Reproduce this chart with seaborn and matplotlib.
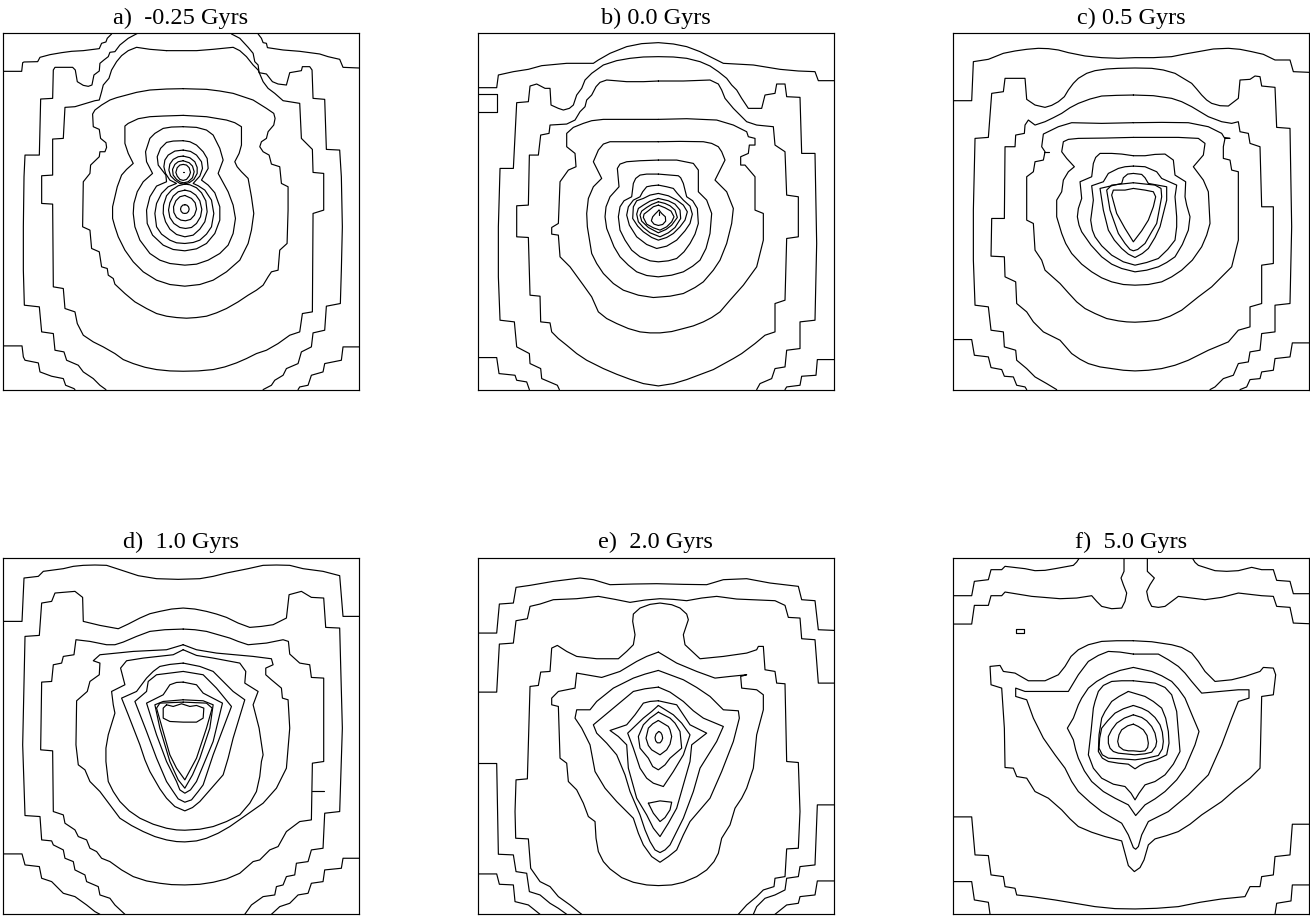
import pandas as pd
import matplotlib
matplotlib.use('Agg')
import matplotlib.pyplot as plt
import seaborn as sns

# contours, in zoomed pixel units of each panel

titles = ['a)  -0.25 Gyrs', 'b) 0.0 Gyrs', 'c) 0.5 Gyrs',
          'd)  1.0 Gyrs', 'e)  2.0 Gyrs', 'f)  5.0 Gyrs']

panel_a = [
    [(8,184),(65,184),(68,158),(72,156),(113,155),(120,142),(150,134),(185,128),(215,124),(250,122),(298,116),(305,100),(318,96),(322,85),(335,72)],
    [(775,72),(785,85),(790,98),(800,100),(803,113),(850,120),(900,124),(960,132),(985,140),(1020,148),(1030,172),(1078,174)],
    [(8,1007),(66,1007),(70,1040),(75,1050),(115,1058),(120,1085),(155,1098),(190,1105),(197,1125),(222,1135),(225,1138)],
    [(1078,1010),(1030,1010),(1025,1050),(975,1060),(970,1085),(935,1095),(925,1125),(900,1130),(895,1138)],
    [(413,70),(385,85),(360,105),(345,125),(330,127),(325,140),(312,150),(300,160),(298,183),(282,195),(276,225),(265,229),(250,226),(232,215),(226,180),(218,172),(165,172),(160,180),(158,265),(122,267),(118,435),(75,435),(72,500),(70,650),(70,780),(73,885),(118,890),(125,965),(160,970),(165,1020),(192,1025),(200,1050),(235,1065),(250,1085),(280,1105),(300,1125),(318,1138)],
    [(695,72),(720,85),(745,112),(760,130),(765,155),(775,165),(778,188),(800,192),(818,215),(835,222),(860,225),(870,188),(905,182),(908,170),(930,170),(937,180),(940,265),(975,268),(980,418),(1020,420),(1025,500),(1028,650),(1025,780),(1022,880),(980,888),(975,960),(940,968),(935,1010),(905,1025),(895,1060),(860,1075),(850,1095),(825,1110),(815,1125),(790,1138)],
    [(500,122),(450,118),(410,112),(385,122),(365,137),(350,155),(335,180),(327,205),(310,225),(305,245),(298,270),(285,272),(225,290),(195,292),(190,385),(158,387),(158,495),(125,497),(125,580),(158,582),(160,830),(190,835),(195,895),(225,905),(232,940),(250,975),(280,995),(310,1010),(345,1030),(370,1048),(400,1060),(435,1071),(470,1078),(510,1082),(550,1083),(595,1082),(640,1078),(675,1070),(710,1058),(740,1045),(770,1030),(800,1020),(835,1000),(870,975),(900,965),(908,910),(938,905),(940,610),(972,600),(972,490),(940,487),(938,418),(905,385),(900,280),(850,272),(825,250),(805,235),(790,215),(775,180),(760,165),(740,140),(720,122),(700,112),(670,115),(640,118),(590,122),(500,122)],
    [(550,236),(500,237),(450,240),(410,247),(380,255),(350,263),(330,270),(305,285),(285,300),(278,312),(280,350),(298,358),(302,385),(318,398),(320,412),(315,425),(300,425),(298,440),(272,465),(270,490),(250,515),(248,650),(270,660),(275,715),(298,725),(305,770),(322,775),(325,795),(340,805),(345,822),(375,850),(405,875),(440,895),(470,910),(500,918),(530,922),(560,924),(590,922),(620,918),(650,908),(680,895),(715,875),(745,855),(770,840),(790,825),(805,800),(815,785),(835,780),(840,720),(862,700),(865,600),(865,530),(845,520),(840,470),(815,462),(808,435),(790,425),(780,410),(785,395),(800,385),(805,365),(822,345),(826,325),(822,310),(800,295),(760,270),(730,260),(700,250),(660,243),(620,238),(550,236)],
    [(550,316),(490,318),(450,320),(415,326),(385,340),(375,348),(375,400),(385,430),(400,460),(380,478),(365,495),(352,530),(338,590),(338,625),(345,650),(355,680),(375,720),(400,755),(430,785),(470,810),(510,823),(555,828),(600,823),(640,810),(680,785),(720,750),(745,700),(755,660),(762,610),(755,560),(745,505),(725,485),(712,470),(705,455),(718,430),(725,405),(725,350),(705,338),(680,330),(620,320),(550,316)],
    [(550,350),(515,351),(490,355),(465,370),(450,385),(437,425),(440,455),(458,490),(430,515),(412,545),(402,580),(400,610),(405,650),(420,690),(450,730),(480,750),(510,760),(555,765),(590,762),(625,750),(660,730),(685,705),(700,670),(707,625),(700,585),(685,545),(655,490),(670,450),(660,415),(640,375),(620,360),(590,352),(550,350)],
    [(550,392),(520,393),(500,397),(482,415),(472,440),(475,465),(498,495),(500,515),(470,528),(450,560),(440,600),(442,640),(458,675),(490,705),(520,718),(555,722),(590,716),(620,700),(645,670),(660,630),(660,590),(645,548),(625,525),(605,510),(625,475),(622,445),(610,425),(590,405),(570,395),(550,392)],
    [(550,420),(525,423),(505,435),(495,450),(492,470),(497,490),(510,510),(530,520),(505,530),(485,550),(470,580),(465,610),(470,650),(485,672),(510,690),(530,698),(555,700),(580,697),(600,690),(620,672),(635,650),(642,610),(635,570),(615,540),(595,527),(580,520),(600,498),(608,475),(605,455),(590,435),(572,424),(550,420)],
    [(550,438),(535,440),(520,448),(510,462),(507,480),(512,497),(525,510),(540,520),(552,522),(568,518),(582,508),(592,490),(592,472),(585,455),(570,443),(550,438)],
    [(550,452),(535,455),(525,463),(518,478),(520,495),(530,508),(542,516),(552,518),(565,515),(578,503),(583,485),(578,468),(568,458),(550,452)],
    [(550,463),(540,465),(532,473),(528,487),(532,498),(540,508),(550,511),(560,508),(568,498),(572,487),(568,473),(560,465),(550,463)],
    [(555,522),(535,527),(515,540),(500,557),(491,585),(490,610),(497,635),(510,657),(530,673),(555,680),(580,675),(600,657),(615,635),(622,605),(618,572),(605,548),(590,533),(570,524),(555,522)],
    [(555,540),(535,545),(520,558),(510,578),(506,600),(510,622),(522,640),(540,652),(557,655),(575,652),(590,640),(602,620),(606,598),(600,572),(588,555),(572,544),(555,540)],
    [(555,556),(540,560),(528,572),(521,590),(522,607),(530,622),(543,630),(557,632),(572,628),(584,615),(590,597),(586,578),(575,565),(555,556)],
    [(555,584),(549,585),(544,590),(542,597),(544,604),(549,609),(555,610),(561,609),(566,604),(568,597),(566,590),(561,585),(555,584)],
    [(549,487),(553,487)],
]

panel_b = [
    [(23,233),(80,233),(85,195),(130,185),(175,178),(215,167),(290,160),(370,160),(385,150),(420,130),(470,110),(515,101),(565,98),(610,102),(650,110),(690,125),(720,140),(760,160),(850,165),(930,178),(985,183),(1035,185),(1045,212),(1092,212)],
    [(23,253),(80,253),(80,305),(23,305)],
    [(23,1042),(80,1042),(87,1090),(135,1095),(140,1110),(170,1115),(178,1138)],
    [(1092,1048),(1042,1048),(1038,1095),(995,1098),(990,1125),(950,1130),(945,1138)],
    [(268,1138),(262,1125),(215,1105),(212,1075),(180,1060),(178,1030),(140,1010),(133,935),(90,930),(85,800),(85,650),(90,475),(130,475),(140,278),(175,275),(180,228),(200,222),(225,235),(240,235),(243,285),(265,295),(280,300),(298,295),(310,285),(320,255),(335,235),(345,210),(365,190),(400,165),(440,152),(480,145),(520,141),(565,140),(610,141),(650,145),(690,155),(720,168),(745,185),(770,205),(785,225),(800,240),(815,265),(835,295),(875,295),(885,255),(915,250),(920,222),(945,222),(950,260),(990,262),(995,430),(1035,430),(1040,700),(1035,930),(990,935),(990,1015),(950,1020),(945,1070),(915,1075),(905,1105),(870,1120),(860,1138)],
    [(565,213),(520,215),(470,215),(435,212),(410,210),(390,217),(378,230),(365,255),(350,270),(345,290),(330,305),(315,330),(290,342),(240,345),(237,370),(212,375),(205,435),(178,435),(175,585),(140,587),(140,680),(175,682),(180,855),(210,858),(212,935),(240,938),(245,965),(265,985),(290,1005),(320,1030),(350,1050),(400,1075),(440,1092),(480,1107),(520,1120),(565,1127),(610,1120),(650,1108),(690,1093),(730,1078),(790,1045),(815,1030),(855,1000),(885,975),(915,965),(915,880),(945,870),(950,685),(985,680),(985,560),(950,555),(945,425),(915,405),(910,350),(860,345),(830,335),(810,315),(790,295),(765,265),(755,240),(745,222),(720,210),(640,213),(565,213)],
    [(565,328),(480,328),(400,328),(365,332),(340,340),(310,352),(290,370),(290,410),(315,430),(318,470),(295,480),(270,515),(265,640),(245,652),(245,672),(265,675),(270,740),(300,770),(340,825),(365,860),(385,905),(410,925),(440,940),(475,955),(510,965),(540,968),(570,968),(605,964),(640,955),(670,947),(700,935),(725,922),(750,905),(780,870),(820,825),(860,770),(880,690),(880,610),(855,600),(855,500),(825,465),(812,465),(812,440),(835,430),(838,405),(855,405),(855,385),(835,380),(830,365),(790,345),(740,330),(650,326),(565,328)],
    [(565,395),(490,395),(420,395),(400,402),(385,420),(370,455),(395,505),(370,530),(355,565),(350,610),(352,650),(365,730),(380,760),(400,790),(430,820),(460,840),(505,855),(550,862),(600,858),(640,850),(675,832),(700,815),(730,780),(750,750),(770,700),(785,640),(790,595),(770,545),(735,510),(765,450),(755,425),(745,410),(725,400),(700,395),(630,394),(565,395)],
    [(565,450),(510,452),(470,455),(450,462),(442,475),(447,530),(420,560),(408,590),(405,620),(410,655),(420,680),(432,710),(450,740),(475,765),(500,785),(530,796),(565,800),(605,795),(640,785),(668,768),(690,750),(708,715),(720,670),(725,610),(710,570),(685,545),(685,480),(670,460),(620,450),(565,450)],
    [(565,492),(530,492),(510,495),(497,505),(490,520),(485,560),(462,572),(450,590),(445,620),(450,660),(465,690),(485,720),(510,740),(540,752),(565,755),(595,752),(620,745),(642,725),(660,700),(675,672),(685,640),(682,595),(668,572),(650,560),(640,520),(632,503),(625,497),(565,492)],
    [(565,525),(545,527),(530,530),(518,545),(510,560),(490,570),(475,590),(470,615),(478,645),(500,680),(530,703),(560,715),(590,708),(620,690),(645,662),(660,640),(667,612),(660,588),(640,570),(622,550),(610,535),(590,530),(565,525)],
    [(565,550),(540,555),(520,565),(500,572),(490,590),(488,625),(503,648),(520,665),(545,682),(565,690),(590,682),(610,670),(630,650),(645,630),(652,605),(640,585),(620,570),(595,557),(565,550)],
    [(565,565),(540,573),(520,585),(505,595),(500,612),(505,635),(520,652),(540,668),(570,680),(595,668),(615,652),(632,625),(630,600),(615,582),(595,572),(565,565)],
    [(565,575),(545,583),(530,592),(515,603),(510,615),(515,633),(535,652),(565,668),(588,658),(605,645),(622,622),(615,600),(600,587),(585,580),(565,575)],
    [(565,585),(550,590),(535,602),(522,612),(520,622),(530,642),(550,653),(570,660),(590,650),(605,635),(612,620),(603,603),(585,593),(565,585)],
    [(567,600),(555,612),(548,620),(544,632),(552,642),(565,646),(578,643),(587,633),(586,620),(575,610),(567,600)],
    [(567,606),(567,616)],
]

panel_c = [
    [(23,272),(80,272),(85,155),(130,148),(175,130),(210,123),(245,118),(280,115),(310,116),(340,120),(370,128),(420,138),(470,143),(520,145),(570,143),(625,143),(680,140),(720,132),(760,125),(805,117),(850,115),(885,118),(920,125),(955,133),(990,150),(1035,150),(1045,185),(1092,187)],
    [(23,988),(80,988),(88,1035),(130,1040),(138,1072),(170,1078),(178,1098),(205,1100),(215,1125),(240,1130),(245,1138)],
    [(1092,998),(1042,998),(1035,1040),(990,1045),(985,1080),(950,1085),(945,1105),(915,1108),(905,1130),(885,1138)],
    [(335,1138),(305,1120),(270,1100),(245,1075),(215,1050),(212,1020),(178,1010),(175,965),(138,960),(130,890),(90,885),(85,750),(85,600),(90,385),(130,382),(140,250),(175,245),(180,205),(240,205),(245,268),(270,285),(300,292),(320,286),(340,275),(358,260),(370,240),(385,220),(400,205),(425,190),(450,182),(485,177),(520,175),(570,174),(620,175),(655,180),(690,190),(715,205),(740,220),(755,237),(770,255),(785,270),(800,280),(825,287),(850,288),(880,265),(885,210),(915,208),(930,198),(945,200),(950,228),(990,232),(995,352),(1035,355),(1040,650),(1035,880),(990,885),(990,965),(950,970),(945,1020),(915,1025),(910,1055),(880,1060),(865,1095),(835,1105),(810,1130),(795,1138)],
    [(565,255),(515,256),(470,258),(435,267),(400,280),(375,293),(350,310),(325,323),(300,335),(270,345),(250,330),(240,345),(238,370),(212,375),(210,410),(180,410),(178,625),(140,625),(138,738),(178,740),(180,800),(212,815),(215,880),(245,905),(265,935),(295,965),(345,990),(380,1030),(405,1047),(430,1060),(465,1070),(500,1075),(535,1080),(570,1082),(610,1080),(650,1075),(690,1065),(730,1050),(760,1035),(790,1020),(850,995),(880,960),(915,950),(915,890),(950,880),(950,765),(985,760),(985,590),(950,590),(945,410),(915,400),(910,370),(885,365),(880,335),(860,340),(830,335),(790,320),(765,305),(740,290),(710,275),(680,265),(625,257),(565,255)],
    [(565,338),(470,340),(380,338),(340,350),(295,372),(290,410),(300,425),(295,450),(270,455),(265,485),(245,500),(245,630),(265,640),(270,720),(290,750),(300,780),(345,820),(370,848),(395,875),(420,895),(450,910),(485,925),(520,932),(545,935),(570,936),(605,934),(640,930),(675,918),(710,900),(735,880),(760,860),(800,830),(830,800),(860,770),(880,690),(880,485),(860,480),(855,450),(835,445),(835,410),(840,385),(855,385),(838,383),(830,370),(790,350),(730,338),(650,337),(565,338)],
    [(297,425),(313,425)],
    [(565,382),(480,384),(400,385),(370,388),(355,395),(350,425),(365,445),(388,470),(370,485),(355,510),(350,545),(335,570),(335,620),(350,670),(362,700),(380,730),(410,762),(440,785),(470,803),(500,815),(535,823),(570,825),(610,823),(650,815),(680,800),(710,780),(742,750),(770,710),(785,675),(795,640),(790,545),(775,510),(745,470),(775,435),(780,400),(760,385),(700,382),(565,382)],
    [(565,437),(530,432),(500,430),(465,430),(452,442),(445,460),(440,500),(405,515),(410,565),(400,595),(397,620),(402,645),(410,665),(438,705),(470,740),(500,762),(530,775),(570,785),(605,780),(640,770),(665,757),(690,740),(712,703),(730,660),(735,620),(725,585),(720,560),(722,515),(690,495),(685,450),(660,432),(630,433),(600,437),(565,437)],
    [(565,468),(540,470),(520,475),(490,490),(475,515),(440,527),(445,570),(437,630),(442,660),(450,680),(470,707),(500,735),(535,755),(570,765),(605,757),(640,745),(668,718),(690,690),(695,650),(695,620),(690,560),(695,525),(650,505),(635,485),(600,470),(565,468)],
    [(565,490),(548,492),(535,503),(530,520),(465,535),(475,600),(490,660),(508,690),(530,715),(550,732),(570,742),(592,730),(610,715),(630,682),(645,650),(665,570),(665,530),(610,520),(600,503),(590,493),(565,490)],
    [(565,518),(500,525),(485,540),(495,600),(520,670),(540,700),(555,718),(565,722),(578,718),(600,700),(620,665),(635,640),(650,560),(648,535),(630,525),(565,518)],
    [(565,535),(540,540),(505,540),(500,555),(515,610),(540,655),(565,695),(590,662),(610,630),(625,590),(632,560),(625,545),(600,540),(565,535)],
]

panel_d = [
    [(8,280),(66,280),(72,150),(115,145),(130,130),(190,122),(220,115),(250,112),(285,111),(320,112),(360,125),(415,143),(470,152),(535,154),(600,152),(640,145),(680,135),(745,122),(790,112),(830,111),(870,112),(910,122),(970,130),(1020,143),(1030,265),(1078,265)],
    [(8,977),(66,977),(75,1010),(118,1015),(125,1050),(155,1060),(190,1095),(225,1105),(260,1130),(285,1150),(300,1158)],
    [(1078,990),(1030,990),(1025,1020),(975,1025),(970,1060),(935,1065),(925,1095),(895,1100),(870,1125),(840,1135),(815,1158)],
    [(375,1158),(345,1130),(330,1110),(300,1100),(295,1075),(260,1060),(255,1040),(225,1025),(220,1000),(195,990),(190,965),(160,950),(155,938),(125,935),(120,865),(75,862),(68,650),(75,325),(118,322),(125,225),(155,220),(165,195),(225,190),(248,208),(250,280),(300,292),(355,302),(385,288),(420,270),(450,257),(480,250),(515,243),(550,240),(585,243),(620,250),(650,258),(680,268),(715,285),(750,298),(785,295),(820,290),(860,270),(868,200),(905,190),(935,208),(972,210),(978,298),(1020,300),(1028,600),(1020,850),(975,855),(970,960),(935,965),(925,1000),(890,1005),(885,1040),(860,1045),(850,1070),(830,1075),(825,1100),(790,1105),(755,1130),(735,1158)],
    [(550,303),(495,305),(450,310),(410,325),(370,342),(345,350),(320,350),(270,340),(228,335),(222,380),(190,385),(185,405),(160,410),(155,460),(125,462),(122,665),(158,668),(160,850),(190,860),(195,885),(225,905),(235,925),(260,935),(270,960),(290,970),(305,990),(330,1000),(365,1025),(400,1045),(440,1058),(480,1065),(515,1069),(555,1070),(600,1068),(640,1062),(680,1052),(720,1035),(760,1000),(780,995),(810,965),(835,955),(860,910),(900,880),(935,875),(938,705),(972,700),(972,450),(935,448),(930,410),(900,405),(870,378),(866,340),(850,335),(800,345),(745,350),(715,340),(690,330),(620,310),(585,305),(550,303)],
    [(938,788),(972,788)],
    [(550,350),(500,365),(400,370),(300,380),(280,398),(300,405),(298,440),(270,460),(262,490),(230,518),(228,650),(235,710),(255,725),(270,760),(300,790),(330,830),(360,870),(395,892),(430,910),(465,925),(500,935),(530,940),(555,941),(590,938),(620,930),(655,915),(690,895),(740,860),(790,825),(830,780),(860,720),(870,600),(865,515),(848,510),(845,480),(815,455),(798,440),(798,420),(820,410),(815,392),(760,385),(650,375),(590,365),(550,350)],
    [(550,365),(520,380),(430,390),(380,398),(362,420),(375,470),(335,490),(340,530),(345,555),(325,620),(318,660),(318,700),(325,760),(340,790),(360,820),(388,848),(420,870),(460,888),(500,900),(530,905),(555,906),(600,903),(640,895),(680,880),(720,860),(750,825),(770,790),(780,745),(785,700),(790,680),(778,600),(760,530),(775,490),(735,465),(738,430),(720,405),(640,390),(590,382),(550,365)],
    [(550,405),(510,409),(480,415),(460,430),(440,450),(410,490),(365,510),(385,560),(420,650),(435,695),(450,730),(480,782),(500,810),(525,835),(555,848),(578,838),(600,820),(635,780),(670,740),(685,690),(700,630),(735,515),(700,490),(670,460),(640,430),(600,415),(550,405)],
    [(550,430),(470,440),(445,460),(440,490),(405,520),(440,610),(470,690),(500,760),(520,790),(535,812),(555,822),(575,815),(595,790),(610,770),(640,680),(695,535),(650,480),(610,440),(550,430)],
    [(550,462),(530,463),(510,470),(490,500),(440,525),(470,620),(500,700),(530,760),(540,785),(555,795),(572,785),(590,760),(615,700),(640,640),(668,525),(610,495),(590,470),(550,462)],
    [(550,515),(490,520),(465,530),(480,600),(510,700),(535,755),(555,780),(578,740),(600,690),(630,600),(640,530),(610,518),(550,515)],
    [(550,522),(480,525),(470,540),(490,610),(510,680),(530,720),(555,755),(590,690),(620,600),(637,540),(620,525),(550,522)],
    [(500,530),(520,535),(545,527),(570,535),(590,532),(612,540),(610,570),(590,582),(550,582),(510,580),(490,570),(490,540),(500,530)],
]

panel_e = [
    [(23,315),(80,315),(88,228),(130,225),(138,178),(180,172),(250,160),(330,150),(370,155),(420,170),(490,168),(560,167),(640,169),(710,170),(760,155),(830,152),(900,165),(985,175),(995,215),(1035,218),(1045,305),(1092,307)],
    [(23,492),(80,492),(88,348),(130,345),(138,278),(172,272),(180,235),(210,228),(250,215),(320,212),(385,205),(435,214),(480,223),(525,216),(570,212),(610,214),(650,218),(695,210),(740,205),(800,213),(915,218),(945,232),(955,268),(990,270),(995,332),(1035,335),(1045,465),(1092,465)],
    [(23,1037),(80,1037),(88,1068),(130,1070),(135,1120),(175,1130),(210,1158)],
    [(23,706),(80,706),(85,978),(130,980),(138,1030),(170,1035),(178,1090),(210,1100),(240,1125),(265,1140),(290,1158)],
    [(335,1158),(300,1130),(265,1105),(240,1075),(210,1060),(182,1020),(175,932),(137,930),(135,850),(138,755),(172,752),(180,475),(205,472),(212,432),(240,430),(245,360),(262,352),(290,370),(320,385),(380,392),(445,392),(470,370),(490,350),(495,320),(488,280),(490,258),(510,240),(540,229),(570,225),(605,230),(630,240),(650,258),(655,275),(640,320),(645,350),(690,392),(760,385),(830,375),(860,365),(865,355),(880,355),(885,425),(915,430),(920,465),(945,467),(950,700),(985,703),(990,850),(985,960),(950,962),(945,1045),(915,1050),(912,1075),(880,1085),(860,1105),(830,1130),(805,1158)],
    [(1092,1058),(1042,1058),(1035,1100),(990,1105),(985,1125),(950,1130),(915,1158)],
    [(1092,830),(1042,830),(1035,1010),(990,1015),(985,1045),(950,1050),(945,1085),(915,1100),(885,1110),(860,1135),(850,1158)],
    [(565,372),(530,385),(500,400),(450,430),(395,448),(320,435),(315,480),(265,490),(245,510),(245,530),(265,535),(270,690),(290,705),(295,760),(320,785),(340,825),(355,865),(375,880),(378,930),(385,970),(400,1000),(420,1022),(455,1048),(490,1062),(530,1070),(565,1072),(605,1070),(640,1062),(680,1045),(710,1025),(732,1000),(745,975),(755,930),(780,890),(795,840),(815,810),(830,780),(850,720),(860,620),(880,545),(880,500),(860,485),(815,480),(812,445),(830,440),(780,445),(735,450),(680,430),(620,405),(565,372)],
    [(565,427),(525,438),(490,450),(430,480),(380,520),(360,545),(320,545),(315,570),(335,600),(360,650),(375,730),(405,780),(440,820),(470,850),(490,870),(505,915),(520,950),(545,985),(570,1002),(595,985),(620,965),(640,920),(660,880),(720,810),(755,730),(790,640),(808,570),(805,548),(760,545),(720,505),(680,478),(640,455),(565,427)],
    [(565,477),(525,482),(490,490),(460,515),(430,540),(370,590),(380,615),(410,645),(440,680),(465,740),(480,790),(510,860),(525,905),(540,940),(555,965),(570,973),(585,965),(600,950),(640,870),(670,790),(690,720),(740,640),(760,595),(700,570),(670,548),(640,520),(600,492),(565,477)],
    [(565,518),(540,520),(520,525),(495,560),(470,590),(420,607),(445,625),(470,650),(475,720),(500,810),(530,860),(550,900),(570,925),(595,885),(620,840),(640,770),(660,700),(665,650),(710,615),(660,590),(640,560),(620,530),(565,518)],
    [(535,825),(570,818),(605,822),(600,845),(585,868),(570,880),(550,855),(535,825)],
    [(565,532),(545,550),(520,570),(473,615),(490,660),(510,720),(530,750),(550,765),(580,775),(610,730),(640,680),(660,620),(635,585),(610,560),(565,532)],
    [(565,552),(540,570),(520,590),(505,625),(510,660),(535,690),(548,715),(565,725),(585,710),(600,690),(635,660),(630,610),(615,585),(600,570),(565,552)],
    [(565,577),(548,587),(535,600),(528,630),(535,652),(545,665),(570,680),(590,665),(600,648),(605,625),(600,605),(595,595),(565,577)],
    [(566,610),(572,613),(576,620),(578,630),(575,638),(570,644),(562,644),(557,638),(555,628),(558,618),(566,610)],
]

panel_f = [
    [(23,203),(80,203),(88,160),(130,155),(138,125),(170,125),(180,115),(240,122),(270,128),(300,127),(330,122),(385,112),(395,102),(403,90)],
    [(742,90),(750,103),(760,112),(810,128),(845,130),(880,128),(920,118),(950,125),(985,125),(995,157),(1035,160),(1045,197),(1092,197)],
    [(23,288),(80,288),(88,232),(130,232),(138,203),(170,203),(180,192),(260,205),(345,212),(395,210),(440,203),(455,220),(470,235),(500,242),(530,240),(540,220),(545,195),(535,170),(528,150),(537,130),(537,90)],
    [(607,90),(607,130),(628,150),(615,170),(605,190),(610,215),(620,235),(640,238),(660,235),(680,220),(700,205),(740,210),(780,215),(830,208),(880,195),(950,203),(985,205),(995,235),(1035,238),(1045,285),(1092,287)],
    [(212,303),(238,303),(238,314),(212,314),(212,303)],
    [(23,1060),(80,1060),(88,1115),(130,1122),(135,1158)],
    [(1092,1070),(1042,1070),(1038,1118),(995,1125),(990,1158)],
    [(23,866),(80,866),(90,980),(130,982),(138,1040),(175,1045),(180,1075),(210,1080),(215,1100),(260,1105),(330,1115),(390,1125),(450,1135),(510,1141),(570,1142),(635,1140),(700,1135),(765,1122),(830,1112),(900,1105),(915,1075),(945,1075),(950,1045),(985,1040),(990,985),(1035,980),(1042,888),(1092,888)],
    [(565,338),(515,338),(470,340),(430,350),(400,365),(378,385),(360,415),(340,440),(300,458),(250,458),(210,435),(175,430),(165,412),(135,415),(138,470),(170,480),(178,600),(180,718),(205,720),(215,745),(245,750),(270,790),(310,810),(350,845),(375,872),(400,895),(440,912),(480,925),(530,938),(540,975),(550,1012),(568,1030),(585,1018),(597,995),(610,950),(630,932),(665,922),(700,910),(735,888),(770,860),(830,820),(870,785),(915,750),(945,720),(950,505),(985,500),(992,440),(985,420),(955,418),(945,430),(900,445),(860,455),(810,460),(780,430),(760,400),(740,375),(710,358),(680,350),(620,341),(565,338)],
    [(565,378),(525,372),(490,370),(460,382),(430,400),(400,440),(370,490),(310,490),(240,490),(212,480),(212,505),(245,515),(265,570),(295,630),(330,680),(360,720),(380,760),(400,790),(435,822),(470,850),(530,885),(550,920),(565,958),(572,963),(580,955),(590,920),(610,880),(670,850),(730,800),(790,740),(830,650),(860,570),(880,520),(912,510),(912,485),(880,485),(770,495),(740,460),(720,435),(700,415),(670,395),(640,378),(600,378),(565,378)],
    [(565,418),(525,427),(490,440),(455,460),(430,480),(410,510),(400,530),(385,570),(367,600),(385,635),(392,665),(400,690),(418,728),(440,760),(475,790),(510,810),(550,830),(572,862),(600,830),(630,812),(660,790),(695,755),(720,720),(750,650),(762,610),(745,570),(720,510),(700,482),(680,460),(650,443),(620,430),(565,418)],
    [(565,458),(530,458),(500,460),(475,472),(460,490),(450,520),(445,540),(438,610),(430,680),(445,720),(470,750),(505,768),(540,775),(558,795),(570,815),(582,795),(600,770),(630,760),(660,740),(685,708),(705,670),(700,610),(695,550),(680,500),(660,478),(630,465),(565,458)],
    [(550,490),(522,505),(500,520),(480,550),(470,570),(462,620),(460,670),(472,690),(490,700),(520,705),(550,708),(570,722),(585,712),(600,705),(635,695),(665,680),(672,645),(670,610),(662,570),(650,540),(625,520),(600,505),(550,490)],
    [(565,532),(535,542),(510,555),(488,578),(470,600),(464,630),(462,660),(472,680),(490,690),(530,692),(570,695),(605,690),(640,682),(652,662),(655,640),(652,612),(645,590),(630,568),(610,550),(590,540),(565,532)],
    [(565,560),(538,570),(515,585),(500,605),(490,625),(490,645),(495,660),(505,670),(520,675),(570,680),(600,677),(620,672),(632,655),(635,640),(630,615),(620,595),(605,578),(590,568),(565,560)],
    [(565,588),(548,593),(530,605),(522,620),(518,640),(522,655),(535,665),(550,668),(565,668),(585,670),(600,668),(608,658),(610,645),(606,622),(595,605),(580,595),(565,588)],
]

panels = [panel_a, panel_b, panel_c, panel_d, panel_e, panel_f]

W, H = 1310, 919
lefts = [2.7, 2.7 + 475, 2.7 + 950]   # axes left edge, px
tops = [33.3, 558.0]
size = 356.3

xlims = [(8, 1078), (23, 1092), (23, 1092)]
ylims = [(1138, 70), (1158, 90)]

sns.set_theme(style='white')
plt.rcParams['font.family'] = ['Liberation Serif', 'DejaVu Serif']

fig = plt.figure(figsize=(W / 100, H / 100), dpi=100)

for i, lines in enumerate(panels):
    row, col = i // 3, i % 3
    ax = fig.add_axes([lefts[col] / W, 1 - (tops[row] + size) / H, size / W, size / H])

    rows = [(n, x, y) for n, line in enumerate(lines) for x, y in line]
    df = pd.DataFrame(rows, columns=['line', 'x', 'y'])
    sns.lineplot(data=df, x='x', y='y', units='line', estimator=None, sort=False,
                 color='black', linewidth=0.85, legend=False, ax=ax)

    ax.set_xlim(*xlims[col])
    ax.set_ylim(*ylims[row])
    ax.set_xlabel('')
    ax.set_ylabel('')
    ax.set_xticks([])
    ax.set_yticks([])
    for s in ax.spines.values():
        s.set_color('black')
        s.set_linewidth(0.85)
    ax.set_title(titles[i], fontsize=17.5, color='black', pad=7)

plt.savefig('out.png', dpi=100)
